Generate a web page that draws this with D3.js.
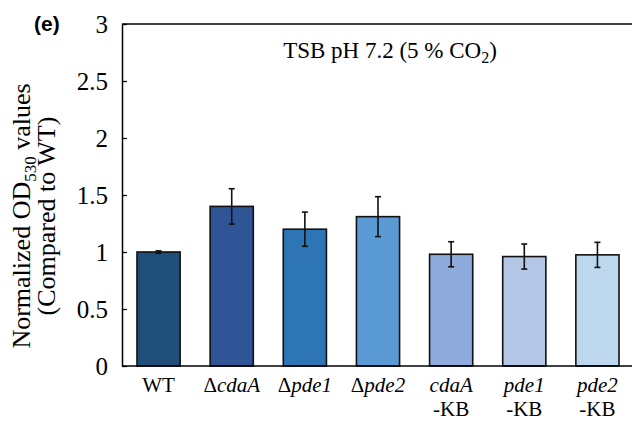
<!DOCTYPE html>
<html>
<head>
<meta charset="utf-8">
<script src="https://cdn.jsdelivr.net/npm/d3@7"></script>
<style>
    body { margin: 0; background: #fff; }
    svg { display: block; }
    svg text { font-family: "Liberation Serif", "Times New Roman", serif !important; fill: #000; }
    svg text.sans { font-family: "Liberation Sans", Arial, sans-serif !important; }
</style>
</head>
<body>
<svg width="632" height="421"></svg>
<script>
// strains, in plot order
const strains = ["WT", "cdaA", "pde1", "pde2", "cdaA-KB", "pde1-KB", "pde2-KB"]
// label parts: [prefix, italic gene, second line]
const label_lines = [
    ["WT", "", ""],
    ["\u0394", "cdaA", ""],
    ["\u0394", "pde1", ""],
    ["\u0394", "pde2", ""],
    ["", "cdaA", "-KB"],
    ["", "pde1", "-KB"],
    ["", "pde2", "-KB"],
]
const values = [1.0, 1.40, 1.20, 1.31, 0.98, 0.96, 0.975]
const errors = [0.01, 0.155, 0.15, 0.175, 0.11, 0.11, 0.11]
const bar_colors = ["#1f4e79", "#2f5597", "#2e75b6", "#5b9bd5", "#8faadc", "#b4c7e7", "#bdd7ee"]
const y_ticks = [0, 0.5, 1, 1.5, 2, 2.5, 3]

const svg = d3.select("svg")
const plot = { left: 122, right: 634, top: 24, bottom: 366 }

const x = d3.scaleBand()
    .domain(strains)
    .range([plot.left, plot.right])
    .paddingInner(0.41)
    .paddingOuter(0.205)

const y = d3.scaleLinear().domain([0, 3]).range([plot.bottom, plot.top])

// y axis with inward ticks
const yAxis = svg.append("g")
    .attr("transform", `translate(${plot.left},0)`)
    .call(d3.axisLeft(y).tickValues(y_ticks).tickSizeInner(-5).tickSizeOuter(0).tickPadding(14)
        .tickFormat(d => d))
    .attr("font-family", null)
    .attr("font-size", null)
yAxis.select(".domain").attr("stroke", "#000").attr("stroke-width", 1.5)
yAxis.selectAll(".tick line").attr("stroke", "#000").attr("stroke-width", 1.3)
yAxis.selectAll(".tick text")
    .attr("font-size", 25)
    .attr("fill", "#000")

// top frame line
svg.append("line").attr("x1", plot.left).attr("x2", 632).attr("y1", plot.top).attr("y2", plot.top)
    .attr("stroke", "#000").attr("stroke-width", 1.5)

// bars
svg.append("g").selectAll("rect")
    .data(strains)
    .join("rect")
    .attr("x", d => x(d))
    .attr("y", (d, i) => y(values[i]))
    .attr("width", x.bandwidth())
    .attr("height", (d, i) => y(0) - y(values[i]))
    .attr("fill", (d, i) => bar_colors[i])
    .attr("stroke", "#111")
    .attr("stroke-width", 1.6)

// error bars
const eb = svg.append("g").attr("stroke", "#111").attr("stroke-width", 1.6)
strains.forEach((d, i) => {
    const cx = x(d) + x.bandwidth() / 2
    eb.append("line").attr("x1", cx).attr("x2", cx)
        .attr("y1", y(values[i] - errors[i])).attr("y2", y(values[i] + errors[i]))
    ;[values[i] - errors[i], values[i] + errors[i]].forEach(v => {
        eb.append("line").attr("x1", cx - 3).attr("x2", cx + 3).attr("y1", y(v)).attr("y2", y(v))
    })
})

svg.append("line").attr("x1", plot.left).attr("x2", 632).attr("y1", plot.bottom).attr("y2", plot.bottom)
    .attr("stroke", "#000").attr("stroke-width", 1.5)

// x labels
strains.forEach((d, i) => {
    const cx = x(d) + x.bandwidth() / 2
    const [pre, gene, second] = label_lines[i]
    const t = svg.append("text")
        .attr("x", cx).attr("y", 392)
        .attr("text-anchor", "middle")
        .attr("font-size", 21)
    if (pre) t.append("tspan").text(pre)
    if (gene) t.append("tspan").attr("font-style", "italic").text(gene)
    if (second) {
        svg.append("text").attr("x", cx).attr("y", 416)
            .attr("text-anchor", "middle").attr("font-size", 21).text(second)
    }
})

// y label
const yl = svg.append("g").attr("transform", "translate(30,216) rotate(-90)")
const l1 = yl.append("text").attr("text-anchor", "middle").attr("font-size", 26)
l1.append("tspan").text("Normalized OD")
l1.append("tspan").attr("dy", 6).attr("font-size", 17).text("530")
l1.append("tspan").attr("dy", -6).text(" values")
yl.append("text").attr("y", 25).attr("text-anchor", "middle").attr("font-size", 26)
    .text("(Compared to WT)")

// title
const title = svg.append("text").attr("x", 390).attr("y", 58)
    .attr("text-anchor", "middle").attr("font-size", 23)
title.append("tspan").text("TSB pH 7.2 (5 % CO")
title.append("tspan").attr("dy", 5).attr("font-size", 16).text("2")
title.append("tspan").attr("dy", -5).text(")")

// panel letter
svg.append("text").attr("class", "sans").attr("x", 34).attr("y", 31)
    .attr("font-weight", "bold").attr("font-size", 21)
    .text("(e)")
</script>
</body>
</html>
